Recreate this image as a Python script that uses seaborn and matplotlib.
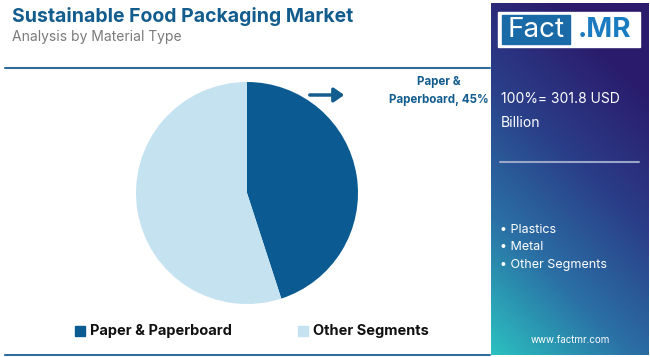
import matplotlib.pyplot as plt
import numpy as np
import seaborn as sns
from matplotlib.colors import LinearSegmentedColormap
from matplotlib.patches import Rectangle

# data
segments = ["Paper & Paperboard", "Other Segments"]
shares = [45, 55]
seg_colors = ["#0b5a91", "#c5e2f1"]
other_materials = ["Plastics", "Metal", "Other Segments"]
market_total = "100%= 301.8 USD\nBillion"

sns.set_theme(style="white")
plt.rcParams["font.family"] = ["Inter", "DejaVu Sans"]

W, H = 650, 357
fig = plt.figure(figsize=(W / 100, H / 100), dpi=100)
fig.patch.set_facecolor("white")


def fx(x):
    return x / W


def fy(y):
    return 1 - y / H


# title block
fig.text(fx(12), fy(17), "Sustainable Food Packaging Market", fontsize=14,
         fontweight="bold", color="#135c8e", va="center", ha="left")
fig.text(fx(12), fy(37), "Analysis by Material Type", fontsize=10,
         color="#7a7a7a", va="center", ha="left")
fig.add_artist(plt.Line2D([fx(5), fx(490)], [fy(68), fy(68)], color="#2f6d9b", lw=1.5))
fig.add_artist(plt.Line2D([fx(5), fx(490)], [fy(355), fy(355)], color="#2f6d9b", lw=1.5))

# pie
r = 111
cx, cy = 247, 193
ax = fig.add_axes([fx(cx - r), fy(cy + r), 2 * r / W, 2 * r / H])
ax.pie(shares, colors=seg_colors, startangle=90, counterclock=False,
       wedgeprops={"linewidth": 0})
ax.set_aspect("auto")
ax.set_xlim(-1, 1)
ax.set_ylim(-1, 1)
ax.axis("off")

# callout
fig.add_artist(plt.Annotation("", xy=(fx(347), fy(95)), xytext=(fx(307), fy(95)),
                              xycoords="figure fraction",
                              arrowprops=dict(arrowstyle="-|>,head_width=0.35,head_length=0.5",
                                              color="#135c8e", lw=2.5)))
fig.text(fx(439), fy(91), "Paper &\nPaperboard, " + f"{shares[0]}%", fontsize=8.3,
         fontweight="bold", color="#135c8e", ha="center", va="center", linespacing=1.6)

# legend
leg_x = [75, 298]
for name, col, x in zip(segments, seg_colors, leg_x):
    fig.add_artist(Rectangle((fx(x), fy(336)), 10 / W, 10 / H, color=col,
                             transform=fig.transFigure))
    fig.text(fx(x + 15), fy(331), name, fontsize=10.5, fontweight="bold",
             color="#111111", ha="left", va="center")

# right panel gradient: dark navy at top, teal toward bottom-left
pax = fig.add_axes([fx(491), fy(355), (648 - 491) / W, (355 - 3) / H])
gy, gx = np.mgrid[0:1:200j, 0:1:100j]
t = np.clip((1 - gy) * 0.8 + (1 - gx) * 0.35 - 0.2, 0, 1)
cmap = LinearSegmentedColormap.from_list("panel", ["#2b1b6c", "#2a3d88", "#2a70a5", "#2cc0c0"])
pax.imshow(t, cmap=cmap, aspect="auto", origin="lower", extent=[0, 1, 0, 1])
pax.axis("off")

# logo
fig.add_artist(Rectangle((fx(498), fy(47)), 142 / W, 35 / H, color="white",
                         transform=fig.transFigure))
fig.add_artist(Rectangle((fx(502), fy(44)), 68 / W, 29 / H, color="#1b6aa8",
                         transform=fig.transFigure))
fig.text(fx(536), fy(30), "Fact", fontsize=20, color="white", ha="center", va="center")
fig.text(fx(604), fy(30), ".MR", fontsize=20, fontweight="bold", color="#1b7bc0",
         ha="center", va="center")

fig.text(fx(501), fy(111), market_total, fontsize=10, color="white", ha="left",
         va="center", linespacing=1.9)
fig.add_artist(plt.Line2D([fx(500), fx(639)], [fy(162), fy(162)], color="#9aa6c8", lw=1.5))
for i, m in enumerate(other_materials):
    fig.text(fx(500), fy(230 + 17.5 * i), "• " + m, fontsize=9, color="white",
             ha="left", va="center")
fig.text(fx(570), fy(340), "www.factmr.com", fontsize=7, color="white",
         ha="center", va="center")

fig.savefig("out.png", dpi=100)
